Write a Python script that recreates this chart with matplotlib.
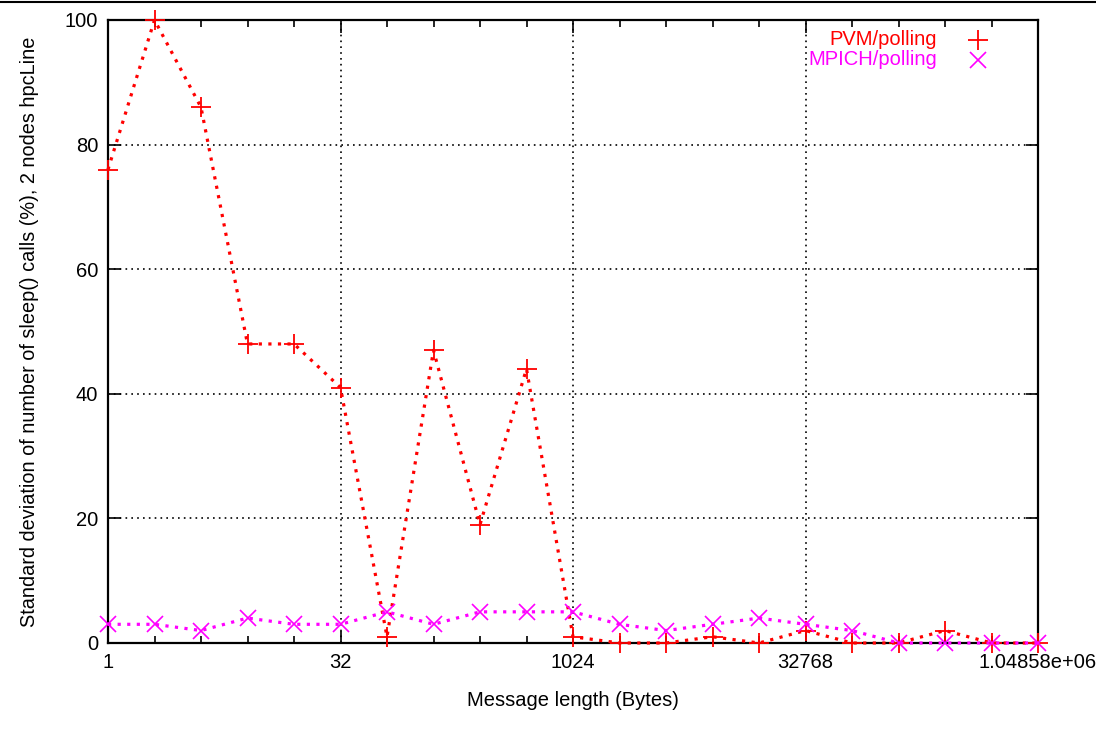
import matplotlib.pyplot as plt
import numpy as np
from matplotlib.lines import Line2D

plt.rcParams['font.family'] = ['Liberation Sans', 'DejaVu Sans']

# message sizes: powers of two from 1 B to 1 MB
sizes = [2 ** k for k in range(21)]
pvm = [76, 100, 86, 48, 48, 41, 1, 47, 19, 44, 1, 0, 0, 1, 0, 2, 0, 0, 2, 0, 0]
mpich = [3, 3, 2, 4, 3, 3, 5, 3, 5, 5, 5, 3, 2, 3, 4, 3, 2, 0, 0, 0, 0]

series = [('PVM/polling', pvm, 'red', '+', 14, 1.3),
          ('MPICH/polling', mpich, 'magenta', 'x', 12, 1.2)]

xticks = [1, 32, 1024, 32768, 1048576]
xlabels = ['1', '32', '1024', '32768', '1.04858e+06']
yticks = [0, 20, 40, 60, 80, 100]

fig = plt.figure(figsize=(10.96, 7.29), dpi=100)
ax = fig.add_axes([108 / 1096, 1 - 643 / 729, 930 / 1096, 623 / 729])

for name, vals, col, mk, ms, mew in series:
    ax.plot(sizes, vals, color=col, ls=(0, (1, 2)), lw=2.3,
            marker=mk, ms=ms, mew=mew, clip_on=False, zorder=3)

ax.set_xscale('log', base=2)
ax.set_xlim(1, 1048576)
ax.set_ylim(0, 100)
ax.set_xticks(xticks)
ax.set_xticklabels(xlabels)
ax.set_xticks(sizes, minor=True)
ax.set_yticks(yticks)

ax.grid(True, which='major', color='black', ls=(0, (1, 2.5)), lw=1.2)
ax.tick_params(which='both', direction='in', top=True, right=True,
               labelsize=14.5, width=1.2)
ax.tick_params(which='major', length=9, pad=7)
ax.tick_params(which='minor', length=5)
ax.xaxis.set_minor_formatter(plt.NullFormatter())
for sp in ax.spines.values():
    sp.set_linewidth(1.6)

ax.set_xlabel('Message length (Bytes)', fontsize=14.5, labelpad=14)
ax.set_ylabel('Standard deviation of number of sleep() calls (%), 2 nodes hpcLine',
              fontsize=14.3, labelpad=19)

# key in the top right corner: right-aligned label, symbol to its right
for i, (name, vals, col, mk, ms, mew) in enumerate(series):
    yk = 1 - (20 + 20 * i) / 623
    ax.text(829 / 930, yk, name, transform=ax.transAxes, color=col,
            fontsize=14.5, ha='right', va='center')
    ax.plot([870 / 930], [yk], transform=ax.transAxes, color=col, ls='none',
            marker=mk, ms=ms, mew=mew, clip_on=False)

fig.add_artist(Line2D([0, 1], [1 - 2 / 729, 1 - 2 / 729], color='black', lw=1.5))

fig.savefig('out.png', dpi=100)
